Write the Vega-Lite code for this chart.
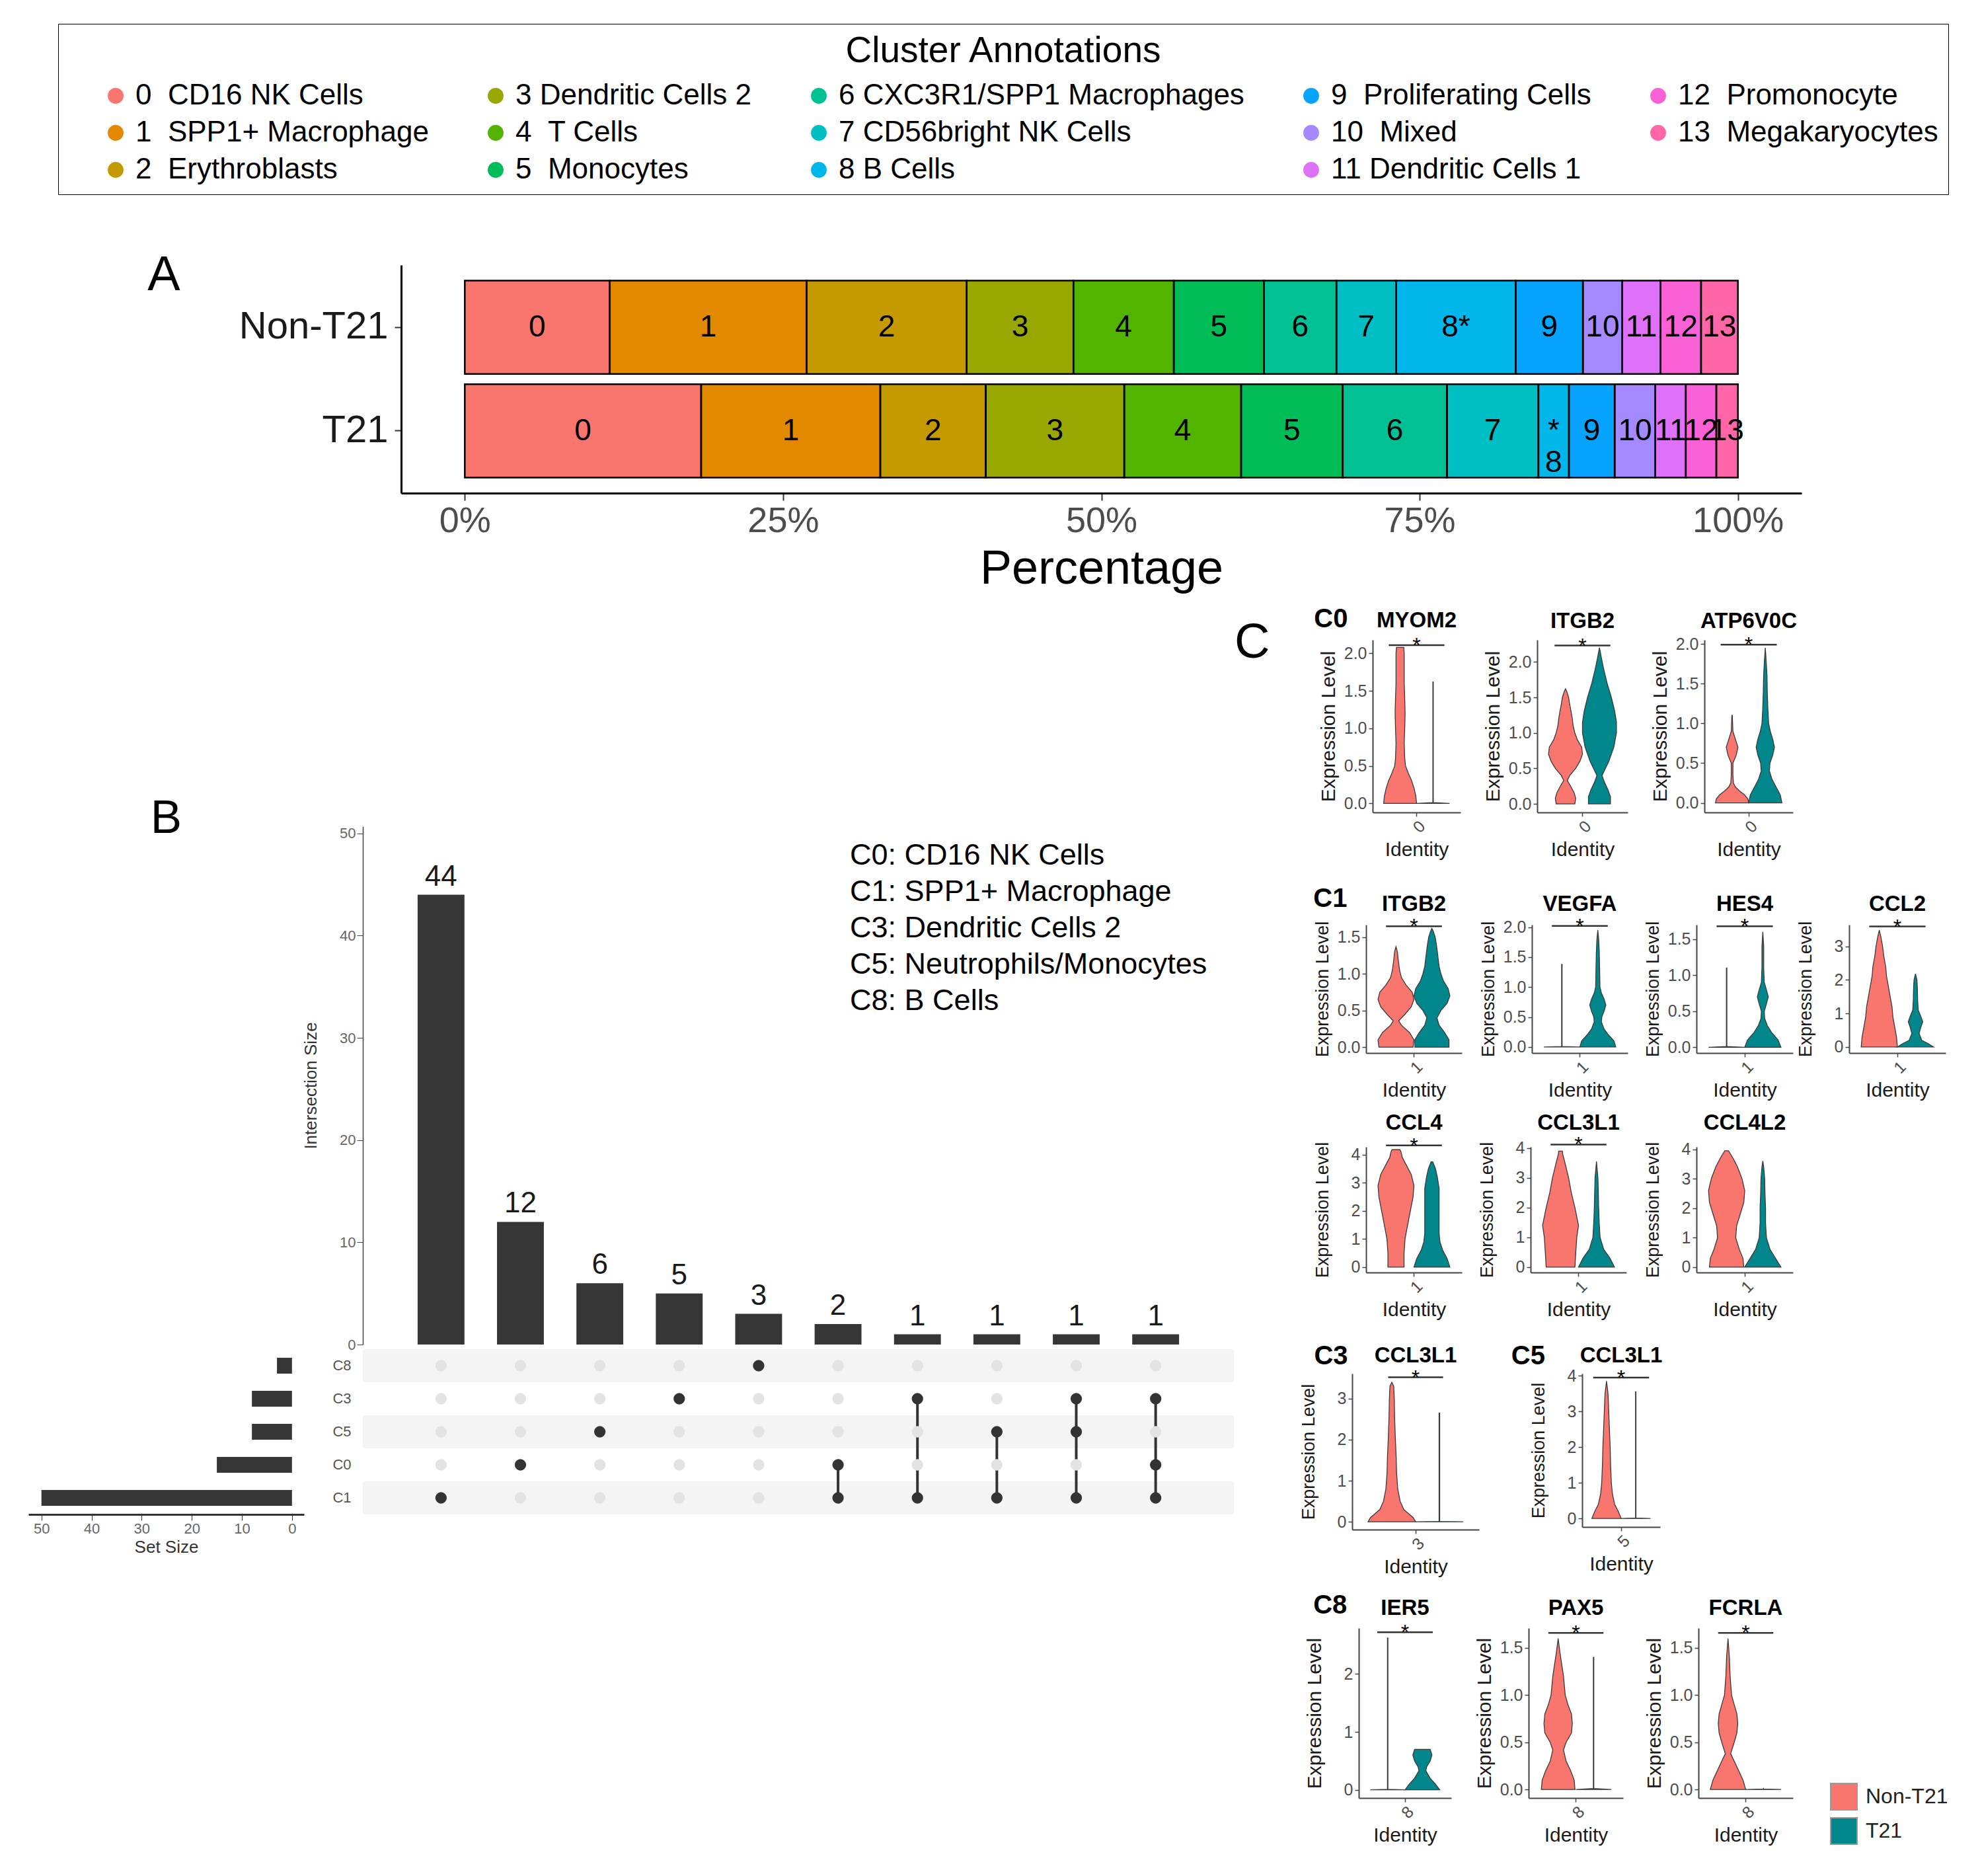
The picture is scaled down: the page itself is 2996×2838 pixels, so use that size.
{
"$schema": "https://vega.github.io/schema/vega-lite/v6.json",
"background": "white",
"padding": {"left": 43, "top": 35, "right": 20, "bottom": 10},
"config": {
  "view": {"stroke": null},
  "font": "Liberation Sans",
  "axis": {"grid": false, "labelFont": "Liberation Sans", "titleFont": "Liberation Sans", "titleFontWeight": "normal"},
  "legend": {"labelFont": "Liberation Sans", "titleFont": "Liberation Sans"},
  "text": {"font": "Liberation Sans"}
},
"datasets": {
  "comp": [
    {"g":"Non-T21","k":0,"pct":11.4,"t":"0","lab":"0\u00a0\u00a0CD16 NK Cells"},
    {"g":"Non-T21","k":1,"pct":15.5,"t":"1","lab":"1\u00a0\u00a0SPP1+ Macrophage"},
    {"g":"Non-T21","k":2,"pct":12.6,"t":"2","lab":"2\u00a0\u00a0Erythroblasts"},
    {"g":"Non-T21","k":3,"pct":8.4,"t":"3","lab":"3\u00a0Dendritic Cells 2"},
    {"g":"Non-T21","k":4,"pct":7.9,"t":"4","lab":"4\u00a0\u00a0T Cells"},
    {"g":"Non-T21","k":5,"pct":7.1,"t":"5","lab":"5\u00a0\u00a0Monocytes"},
    {"g":"Non-T21","k":6,"pct":5.7,"t":"6","lab":"6 CXC3R1/SPP1 Macrophages"},
    {"g":"Non-T21","k":7,"pct":4.7,"t":"7","lab":"7 CD56bright NK Cells"},
    {"g":"Non-T21","k":8,"pct":9.4,"t":"8*","lab":"8 B Cells"},
    {"g":"Non-T21","k":9,"pct":5.3,"t":"9","lab":"9\u00a0\u00a0Proliferating Cells"},
    {"g":"Non-T21","k":10,"pct":3.1,"t":"10","lab":"10\u00a0\u00a0Mixed"},
    {"g":"Non-T21","k":11,"pct":3.0,"t":"11","lab":"11 Dendritic Cells 1"},
    {"g":"Non-T21","k":12,"pct":3.2,"t":"12","lab":"12\u00a0\u00a0Promonocyte"},
    {"g":"Non-T21","k":13,"pct":2.9,"t":"13","lab":"13\u00a0\u00a0Megakaryocytes"},
    {"g":"T21","k":0,"pct":18.6,"t":"0","lab":"0\u00a0\u00a0CD16 NK Cells"},
    {"g":"T21","k":1,"pct":14.1,"t":"1","lab":"1\u00a0\u00a0SPP1+ Macrophage"},
    {"g":"T21","k":2,"pct":8.3,"t":"2","lab":"2\u00a0\u00a0Erythroblasts"},
    {"g":"T21","k":3,"pct":10.9,"t":"3","lab":"3\u00a0Dendritic Cells 2"},
    {"g":"T21","k":4,"pct":9.2,"t":"4","lab":"4\u00a0\u00a0T Cells"},
    {"g":"T21","k":5,"pct":8.0,"t":"5","lab":"5\u00a0\u00a0Monocytes"},
    {"g":"T21","k":6,"pct":8.2,"t":"6","lab":"6 CXC3R1/SPP1 Macrophages"},
    {"g":"T21","k":7,"pct":7.2,"t":"7","lab":"7 CD56bright NK Cells"},
    {"g":"T21","k":8,"pct":2.4,"t":"*\n8","lab":"8 B Cells"},
    {"g":"T21","k":9,"pct":3.6,"t":"9","lab":"9\u00a0\u00a0Proliferating Cells"},
    {"g":"T21","k":10,"pct":3.2,"t":"10","lab":"10\u00a0\u00a0Mixed"},
    {"g":"T21","k":11,"pct":2.4,"t":"11","lab":"11 Dendritic Cells 1"},
    {"g":"T21","k":12,"pct":2.4,"t":"12","lab":"12\u00a0\u00a0Promonocyte"},
    {"g":"T21","k":13,"pct":1.7,"t":"13","lab":"13\u00a0\u00a0Megakaryocytes"}
  ],
  "inter": [
    {"i":1,"n":44},{"i":2,"n":12},{"i":3,"n":6},{"i":4,"n":5},{"i":5,"n":3},
    {"i":6,"n":2},{"i":7,"n":1},{"i":8,"n":1},{"i":9,"n":1},{"i":10,"n":1}
  ],
  "sets": [
    {"s":"C8","n":3},{"s":"C3","n":8},{"s":"C5","n":8},{"s":"C0","n":15},{"s":"C1","n":50}
  ],
  "seg": [
    {"i":6,"a":"C0","b":"C1"},{"i":7,"a":"C3","b":"C1"},{"i":8,"a":"C5","b":"C1"},{"i":9,"a":"C3","b":"C1"},{"i":10,"a":"C3","b":"C1"}
  ],
  "mat": [
    {"i":1,"s":"C8","m":"no"},{"i":1,"s":"C3","m":"no"},{"i":1,"s":"C5","m":"no"},{"i":1,"s":"C0","m":"no"},{"i":1,"s":"C1","m":"yes"},
    {"i":2,"s":"C8","m":"no"},{"i":2,"s":"C3","m":"no"},{"i":2,"s":"C5","m":"no"},{"i":2,"s":"C0","m":"yes"},{"i":2,"s":"C1","m":"no"},
    {"i":3,"s":"C8","m":"no"},{"i":3,"s":"C3","m":"no"},{"i":3,"s":"C5","m":"yes"},{"i":3,"s":"C0","m":"no"},{"i":3,"s":"C1","m":"no"},
    {"i":4,"s":"C8","m":"no"},{"i":4,"s":"C3","m":"yes"},{"i":4,"s":"C5","m":"no"},{"i":4,"s":"C0","m":"no"},{"i":4,"s":"C1","m":"no"},
    {"i":5,"s":"C8","m":"yes"},{"i":5,"s":"C3","m":"no"},{"i":5,"s":"C5","m":"no"},{"i":5,"s":"C0","m":"no"},{"i":5,"s":"C1","m":"no"},
    {"i":6,"s":"C8","m":"no"},{"i":6,"s":"C3","m":"no"},{"i":6,"s":"C5","m":"no"},{"i":6,"s":"C0","m":"yes"},{"i":6,"s":"C1","m":"yes"},
    {"i":7,"s":"C8","m":"no"},{"i":7,"s":"C3","m":"yes"},{"i":7,"s":"C5","m":"no"},{"i":7,"s":"C0","m":"no"},{"i":7,"s":"C1","m":"yes"},
    {"i":8,"s":"C8","m":"no"},{"i":8,"s":"C3","m":"no"},{"i":8,"s":"C5","m":"yes"},{"i":8,"s":"C0","m":"no"},{"i":8,"s":"C1","m":"yes"},
    {"i":9,"s":"C8","m":"no"},{"i":9,"s":"C3","m":"yes"},{"i":9,"s":"C5","m":"yes"},{"i":9,"s":"C0","m":"no"},{"i":9,"s":"C1","m":"yes"},
    {"i":10,"s":"C8","m":"no"},{"i":10,"s":"C3","m":"yes"},{"i":10,"s":"C5","m":"no"},{"i":10,"s":"C0","m":"yes"},{"i":10,"s":"C1","m":"yes"}
  ],
  "vio": [
    {"p":"c0a","g":"N","y":0,"lo":0.55,"hi":1.0},{"p":"c0a","g":"N","y":0.1,"lo":0.561,"hi":0.989},{"p":"c0a","g":"N","y":0.2,"lo":0.584,"hi":0.966},{"p":"c0a","g":"N","y":0.3,"lo":0.617,"hi":0.933},{"p":"c0a","g":"N","y":0.4,"lo":0.662,"hi":0.888},{"p":"c0a","g":"N","y":0.5,"lo":0.701,"hi":0.849},{"p":"c0a","g":"N","y":0.6,"lo":0.712,"hi":0.838},{"p":"c0a","g":"N","y":0.8,"lo":0.719,"hi":0.831},{"p":"c0a","g":"N","y":1.0,"lo":0.712,"hi":0.838},{"p":"c0a","g":"N","y":1.2,"lo":0.707,"hi":0.843},{"p":"c0a","g":"N","y":1.4,"lo":0.712,"hi":0.838},{"p":"c0a","g":"N","y":1.6,"lo":0.719,"hi":0.831},{"p":"c0a","g":"N","y":1.8,"lo":0.719,"hi":0.831},{"p":"c0a","g":"N","y":2.0,"lo":0.719,"hi":0.831},{"p":"c0a","g":"N","y":2.08,"lo":0.725,"hi":0.825},
    {"p":"c0a","g":"T","y":0,"lo":1.0,"hi":1.45},{"p":"c0a","g":"T","y":0.01,"lo":1.222,"hi":1.228},{"p":"c0a","g":"T","y":1.62,"lo":1.222,"hi":1.228},
    {"p":"c0b","g":"N","y":0,"lo":0.651,"hi":0.899},{"p":"c0b","g":"N","y":0.08,"lo":0.64,"hi":0.91},{"p":"c0b","g":"N","y":0.16,"lo":0.662,"hi":0.888},{"p":"c0b","g":"N","y":0.25,"lo":0.707,"hi":0.843},{"p":"c0b","g":"N","y":0.33,"lo":0.752,"hi":0.798},{"p":"c0b","g":"N","y":0.4,"lo":0.719,"hi":0.831},{"p":"c0b","g":"N","y":0.5,"lo":0.64,"hi":0.91},{"p":"c0b","g":"N","y":0.6,"lo":0.584,"hi":0.966},{"p":"c0b","g":"N","y":0.7,"lo":0.55,"hi":1.0},{"p":"c0b","g":"N","y":0.8,"lo":0.561,"hi":0.989},{"p":"c0b","g":"N","y":0.9,"lo":0.617,"hi":0.933},{"p":"c0b","g":"N","y":1.0,"lo":0.651,"hi":0.899},{"p":"c0b","g":"N","y":1.1,"lo":0.674,"hi":0.876},{"p":"c0b","g":"N","y":1.2,"lo":0.685,"hi":0.865},{"p":"c0b","g":"N","y":1.3,"lo":0.701,"hi":0.849},{"p":"c0b","g":"N","y":1.4,"lo":0.719,"hi":0.831},{"p":"c0b","g":"N","y":1.5,"lo":0.734,"hi":0.816},{"p":"c0b","g":"N","y":1.58,"lo":0.757,"hi":0.793},{"p":"c0b","g":"N","y":1.62,"lo":0.775,"hi":0.775},
    {"p":"c0b","g":"T","y":0,"lo":1.079,"hi":1.371},{"p":"c0b","g":"T","y":0.1,"lo":1.079,"hi":1.371},{"p":"c0b","g":"T","y":0.2,"lo":1.112,"hi":1.338},{"p":"c0b","g":"T","y":0.3,"lo":1.157,"hi":1.293},{"p":"c0b","g":"T","y":0.4,"lo":1.191,"hi":1.259},{"p":"c0b","g":"T","y":0.5,"lo":1.146,"hi":1.304},{"p":"c0b","g":"T","y":0.6,"lo":1.101,"hi":1.349},{"p":"c0b","g":"T","y":0.8,"lo":1.034,"hi":1.416},{"p":"c0b","g":"T","y":1.0,"lo":1.0,"hi":1.45},{"p":"c0b","g":"T","y":1.15,"lo":1.0,"hi":1.45},{"p":"c0b","g":"T","y":1.3,"lo":1.022,"hi":1.428},{"p":"c0b","g":"T","y":1.5,"lo":1.067,"hi":1.383},{"p":"c0b","g":"T","y":1.7,"lo":1.124,"hi":1.326},{"p":"c0b","g":"T","y":1.9,"lo":1.169,"hi":1.281},{"p":"c0b","g":"T","y":2.05,"lo":1.198,"hi":1.252},{"p":"c0b","g":"T","y":2.2,"lo":1.225,"hi":1.225},
    {"p":"c0c","g":"N","y":0,"lo":0.55,"hi":1.0},{"p":"c0c","g":"N","y":0.05,"lo":0.561,"hi":0.989},{"p":"c0c","g":"N","y":0.1,"lo":0.606,"hi":0.944},{"p":"c0c","g":"N","y":0.15,"lo":0.674,"hi":0.876},{"p":"c0c","g":"N","y":0.2,"lo":0.73,"hi":0.82},{"p":"c0c","g":"N","y":0.25,"lo":0.757,"hi":0.793},{"p":"c0c","g":"N","y":0.35,"lo":0.764,"hi":0.786},{"p":"c0c","g":"N","y":0.5,"lo":0.764,"hi":0.786},{"p":"c0c","g":"N","y":0.6,"lo":0.719,"hi":0.831},{"p":"c0c","g":"N","y":0.7,"lo":0.696,"hi":0.854},{"p":"c0c","g":"N","y":0.8,"lo":0.73,"hi":0.82},{"p":"c0c","g":"N","y":0.9,"lo":0.764,"hi":0.786},{"p":"c0c","g":"N","y":1.1,"lo":0.772,"hi":0.778},
    {"p":"c0c","g":"T","y":0,"lo":1.0,"hi":1.45},{"p":"c0c","g":"T","y":0.1,"lo":1.022,"hi":1.428},{"p":"c0c","g":"T","y":0.2,"lo":1.079,"hi":1.371},{"p":"c0c","g":"T","y":0.3,"lo":1.135,"hi":1.315},{"p":"c0c","g":"T","y":0.4,"lo":1.169,"hi":1.281},{"p":"c0c","g":"T","y":0.5,"lo":1.162,"hi":1.288},{"p":"c0c","g":"T","y":0.6,"lo":1.124,"hi":1.326},{"p":"c0c","g":"T","y":0.7,"lo":1.101,"hi":1.349},{"p":"c0c","g":"T","y":0.8,"lo":1.124,"hi":1.326},{"p":"c0c","g":"T","y":0.9,"lo":1.157,"hi":1.293},{"p":"c0c","g":"T","y":1.0,"lo":1.18,"hi":1.27},{"p":"c0c","g":"T","y":1.2,"lo":1.191,"hi":1.259},{"p":"c0c","g":"T","y":1.4,"lo":1.198,"hi":1.252},{"p":"c0c","g":"T","y":1.6,"lo":1.202,"hi":1.248},{"p":"c0c","g":"T","y":1.8,"lo":1.214,"hi":1.236},{"p":"c0c","g":"T","y":1.95,"lo":1.225,"hi":1.225},
    {"p":"c1a","g":"N","y":0,"lo":0.561,"hi":0.989},{"p":"c1a","g":"N","y":0.1,"lo":0.55,"hi":1.0},{"p":"c1a","g":"N","y":0.2,"lo":0.606,"hi":0.944},{"p":"c1a","g":"N","y":0.3,"lo":0.707,"hi":0.843},{"p":"c1a","g":"N","y":0.36,"lo":0.741,"hi":0.809},{"p":"c1a","g":"N","y":0.45,"lo":0.662,"hi":0.888},{"p":"c1a","g":"N","y":0.55,"lo":0.584,"hi":0.966},{"p":"c1a","g":"N","y":0.65,"lo":0.55,"hi":1.0},{"p":"c1a","g":"N","y":0.75,"lo":0.572,"hi":0.978},{"p":"c1a","g":"N","y":0.85,"lo":0.651,"hi":0.899},{"p":"c1a","g":"N","y":0.95,"lo":0.707,"hi":0.843},{"p":"c1a","g":"N","y":1.05,"lo":0.73,"hi":0.82},{"p":"c1a","g":"N","y":1.2,"lo":0.748,"hi":0.802},{"p":"c1a","g":"N","y":1.3,"lo":0.757,"hi":0.793},{"p":"c1a","g":"N","y":1.37,"lo":0.775,"hi":0.775},
    {"p":"c1a","g":"T","y":0,"lo":1.011,"hi":1.439},{"p":"c1a","g":"T","y":0.1,"lo":1.011,"hi":1.439},{"p":"c1a","g":"T","y":0.2,"lo":1.067,"hi":1.383},{"p":"c1a","g":"T","y":0.3,"lo":1.135,"hi":1.315},{"p":"c1a","g":"T","y":0.4,"lo":1.162,"hi":1.288},{"p":"c1a","g":"T","y":0.5,"lo":1.112,"hi":1.338},{"p":"c1a","g":"T","y":0.6,"lo":1.034,"hi":1.416},{"p":"c1a","g":"T","y":0.7,"lo":1.0,"hi":1.45},{"p":"c1a","g":"T","y":0.8,"lo":1.022,"hi":1.428},{"p":"c1a","g":"T","y":0.9,"lo":1.079,"hi":1.371},{"p":"c1a","g":"T","y":1.0,"lo":1.112,"hi":1.338},{"p":"c1a","g":"T","y":1.1,"lo":1.135,"hi":1.315},{"p":"c1a","g":"T","y":1.2,"lo":1.146,"hi":1.304},{"p":"c1a","g":"T","y":1.3,"lo":1.157,"hi":1.293},{"p":"c1a","g":"T","y":1.4,"lo":1.169,"hi":1.281},{"p":"c1a","g":"T","y":1.5,"lo":1.184,"hi":1.266},{"p":"c1a","g":"T","y":1.58,"lo":1.207,"hi":1.243},{"p":"c1a","g":"T","y":1.62,"lo":1.225,"hi":1.225},
    {"p":"c1b","g":"N","y":0,"lo":0.55,"hi":1.0},{"p":"c1b","g":"N","y":0.01,"lo":0.772,"hi":0.778},{"p":"c1b","g":"N","y":1.38,"lo":0.772,"hi":0.778},
    {"p":"c1b","g":"T","y":0,"lo":1.0,"hi":1.45},{"p":"c1b","g":"T","y":0.1,"lo":1.022,"hi":1.428},{"p":"c1b","g":"T","y":0.2,"lo":1.09,"hi":1.36},{"p":"c1b","g":"T","y":0.3,"lo":1.146,"hi":1.304},{"p":"c1b","g":"T","y":0.42,"lo":1.18,"hi":1.27},{"p":"c1b","g":"T","y":0.5,"lo":1.175,"hi":1.275},{"p":"c1b","g":"T","y":0.6,"lo":1.146,"hi":1.304},{"p":"c1b","g":"T","y":0.7,"lo":1.124,"hi":1.326},{"p":"c1b","g":"T","y":0.8,"lo":1.146,"hi":1.304},{"p":"c1b","g":"T","y":0.9,"lo":1.18,"hi":1.27},{"p":"c1b","g":"T","y":1.0,"lo":1.198,"hi":1.252},{"p":"c1b","g":"T","y":1.3,"lo":1.202,"hi":1.248},{"p":"c1b","g":"T","y":1.6,"lo":1.207,"hi":1.243},{"p":"c1b","g":"T","y":1.8,"lo":1.214,"hi":1.236},{"p":"c1b","g":"T","y":1.95,"lo":1.225,"hi":1.225},
    {"p":"c1c","g":"N","y":0,"lo":0.55,"hi":1.0},{"p":"c1c","g":"N","y":0.01,"lo":0.772,"hi":0.778},{"p":"c1c","g":"N","y":1.1,"lo":0.772,"hi":0.778},
    {"p":"c1c","g":"T","y":0,"lo":1.0,"hi":1.45},{"p":"c1c","g":"T","y":0.1,"lo":1.034,"hi":1.416},{"p":"c1c","g":"T","y":0.2,"lo":1.112,"hi":1.338},{"p":"c1c","g":"T","y":0.3,"lo":1.169,"hi":1.281},{"p":"c1c","g":"T","y":0.4,"lo":1.202,"hi":1.248},{"p":"c1c","g":"T","y":0.5,"lo":1.207,"hi":1.243},{"p":"c1c","g":"T","y":0.6,"lo":1.18,"hi":1.27},{"p":"c1c","g":"T","y":0.7,"lo":1.157,"hi":1.293},{"p":"c1c","g":"T","y":0.8,"lo":1.18,"hi":1.27},{"p":"c1c","g":"T","y":0.9,"lo":1.207,"hi":1.243},{"p":"c1c","g":"T","y":1.1,"lo":1.214,"hi":1.236},{"p":"c1c","g":"T","y":1.4,"lo":1.214,"hi":1.236},{"p":"c1c","g":"T","y":1.6,"lo":1.225,"hi":1.225},
    {"p":"c1d","g":"N","y":0,"lo":0.55,"hi":1.0},{"p":"c1d","g":"N","y":0.3,"lo":0.561,"hi":0.989},{"p":"c1d","g":"N","y":0.6,"lo":0.584,"hi":0.966},{"p":"c1d","g":"N","y":0.9,"lo":0.606,"hi":0.944},{"p":"c1d","g":"N","y":1.2,"lo":0.617,"hi":0.933},{"p":"c1d","g":"N","y":1.5,"lo":0.64,"hi":0.91},{"p":"c1d","g":"N","y":1.8,"lo":0.662,"hi":0.888},{"p":"c1d","g":"N","y":2.1,"lo":0.685,"hi":0.865},{"p":"c1d","g":"N","y":2.4,"lo":0.696,"hi":0.854},{"p":"c1d","g":"N","y":2.7,"lo":0.719,"hi":0.831},{"p":"c1d","g":"N","y":3.0,"lo":0.734,"hi":0.816},{"p":"c1d","g":"N","y":3.3,"lo":0.757,"hi":0.793},{"p":"c1d","g":"N","y":3.48,"lo":0.775,"hi":0.775},
    {"p":"c1d","g":"T","y":0,"lo":1.0,"hi":1.45},{"p":"c1d","g":"T","y":0.1,"lo":1.067,"hi":1.383},{"p":"c1d","g":"T","y":0.2,"lo":1.146,"hi":1.304},{"p":"c1d","g":"T","y":0.4,"lo":1.18,"hi":1.27},{"p":"c1d","g":"T","y":0.6,"lo":1.157,"hi":1.293},{"p":"c1d","g":"T","y":0.75,"lo":1.135,"hi":1.315},{"p":"c1d","g":"T","y":0.9,"lo":1.157,"hi":1.293},{"p":"c1d","g":"T","y":1.1,"lo":1.191,"hi":1.259},{"p":"c1d","g":"T","y":1.4,"lo":1.198,"hi":1.252},{"p":"c1d","g":"T","y":1.8,"lo":1.202,"hi":1.248},{"p":"c1d","g":"T","y":2.0,"lo":1.207,"hi":1.243},{"p":"c1d","g":"T","y":2.18,"lo":1.225,"hi":1.225},
    {"p":"c1e","g":"N","y":0,"lo":0.674,"hi":0.876},{"p":"c1e","g":"N","y":0.5,"lo":0.674,"hi":0.876},{"p":"c1e","g":"N","y":1.0,"lo":0.662,"hi":0.888},{"p":"c1e","g":"N","y":1.5,"lo":0.629,"hi":0.921},{"p":"c1e","g":"N","y":2.0,"lo":0.595,"hi":0.955},{"p":"c1e","g":"N","y":2.5,"lo":0.561,"hi":0.989},{"p":"c1e","g":"N","y":2.9,"lo":0.55,"hi":1.0},{"p":"c1e","g":"N","y":3.3,"lo":0.584,"hi":0.966},{"p":"c1e","g":"N","y":3.6,"lo":0.64,"hi":0.91},{"p":"c1e","g":"N","y":3.9,"lo":0.696,"hi":0.854},{"p":"c1e","g":"N","y":4.1,"lo":0.712,"hi":0.838},{"p":"c1e","g":"N","y":4.18,"lo":0.725,"hi":0.825},
    {"p":"c1e","g":"T","y":0,"lo":1.0,"hi":1.45},{"p":"c1e","g":"T","y":0.3,"lo":1.034,"hi":1.416},{"p":"c1e","g":"T","y":0.6,"lo":1.09,"hi":1.36},{"p":"c1e","g":"T","y":0.9,"lo":1.124,"hi":1.326},{"p":"c1e","g":"T","y":1.2,"lo":1.135,"hi":1.315},{"p":"c1e","g":"T","y":2.8,"lo":1.135,"hi":1.315},{"p":"c1e","g":"T","y":3.2,"lo":1.157,"hi":1.293},{"p":"c1e","g":"T","y":3.5,"lo":1.18,"hi":1.27},{"p":"c1e","g":"T","y":3.75,"lo":1.214,"hi":1.236},
    {"p":"c1f","g":"N","y":0,"lo":0.595,"hi":0.955},{"p":"c1f","g":"N","y":0.5,"lo":0.584,"hi":0.966},{"p":"c1f","g":"N","y":1.0,"lo":0.572,"hi":0.978},{"p":"c1f","g":"N","y":1.4,"lo":0.55,"hi":1.0},{"p":"c1f","g":"N","y":2.0,"lo":0.595,"hi":0.955},{"p":"c1f","g":"N","y":2.5,"lo":0.64,"hi":0.91},{"p":"c1f","g":"N","y":3.0,"lo":0.674,"hi":0.876},{"p":"c1f","g":"N","y":3.5,"lo":0.719,"hi":0.831},{"p":"c1f","g":"N","y":3.8,"lo":0.748,"hi":0.802},{"p":"c1f","g":"N","y":3.9,"lo":0.752,"hi":0.798},
    {"p":"c1f","g":"T","y":0,"lo":1.0,"hi":1.45},{"p":"c1f","g":"T","y":0.3,"lo":1.056,"hi":1.394},{"p":"c1f","g":"T","y":0.6,"lo":1.135,"hi":1.315},{"p":"c1f","g":"T","y":1.0,"lo":1.18,"hi":1.27},{"p":"c1f","g":"T","y":1.5,"lo":1.191,"hi":1.259},{"p":"c1f","g":"T","y":2.0,"lo":1.198,"hi":1.252},{"p":"c1f","g":"T","y":2.5,"lo":1.202,"hi":1.248},{"p":"c1f","g":"T","y":3.0,"lo":1.207,"hi":1.243},{"p":"c1f","g":"T","y":3.55,"lo":1.225,"hi":1.225},
    {"p":"c1g","g":"N","y":0,"lo":0.561,"hi":0.989},{"p":"c1g","g":"N","y":0.3,"lo":0.572,"hi":0.978},{"p":"c1g","g":"N","y":0.6,"lo":0.617,"hi":0.933},{"p":"c1g","g":"N","y":1.0,"lo":0.662,"hi":0.888},{"p":"c1g","g":"N","y":1.4,"lo":0.651,"hi":0.899},{"p":"c1g","g":"N","y":1.8,"lo":0.606,"hi":0.944},{"p":"c1g","g":"N","y":2.2,"lo":0.561,"hi":0.989},{"p":"c1g","g":"N","y":2.6,"lo":0.55,"hi":1.0},{"p":"c1g","g":"N","y":3.0,"lo":0.584,"hi":0.966},{"p":"c1g","g":"N","y":3.4,"lo":0.64,"hi":0.91},{"p":"c1g","g":"N","y":3.7,"lo":0.696,"hi":0.854},{"p":"c1g","g":"N","y":3.9,"lo":0.741,"hi":0.809},{"p":"c1g","g":"N","y":3.95,"lo":0.752,"hi":0.798},
    {"p":"c1g","g":"T","y":0,"lo":1.0,"hi":1.45},{"p":"c1g","g":"T","y":0.3,"lo":1.067,"hi":1.383},{"p":"c1g","g":"T","y":0.6,"lo":1.135,"hi":1.315},{"p":"c1g","g":"T","y":1.0,"lo":1.18,"hi":1.27},{"p":"c1g","g":"T","y":1.5,"lo":1.191,"hi":1.259},{"p":"c1g","g":"T","y":2.0,"lo":1.191,"hi":1.259},{"p":"c1g","g":"T","y":2.5,"lo":1.198,"hi":1.252},{"p":"c1g","g":"T","y":3.0,"lo":1.202,"hi":1.248},{"p":"c1g","g":"T","y":3.4,"lo":1.214,"hi":1.236},{"p":"c1g","g":"T","y":3.6,"lo":1.225,"hi":1.225},
    {"p":"c3","g":"N","y":0,"lo":0.55,"hi":1.0},{"p":"c3","g":"N","y":0.1,"lo":0.572,"hi":0.978},{"p":"c3","g":"N","y":0.2,"lo":0.617,"hi":0.933},{"p":"c3","g":"N","y":0.3,"lo":0.662,"hi":0.888},{"p":"c3","g":"N","y":0.5,"lo":0.696,"hi":0.854},{"p":"c3","g":"N","y":0.8,"lo":0.719,"hi":0.831},{"p":"c3","g":"N","y":1.2,"lo":0.73,"hi":0.82},{"p":"c3","g":"N","y":1.6,"lo":0.734,"hi":0.816},{"p":"c3","g":"N","y":2.0,"lo":0.741,"hi":0.809},{"p":"c3","g":"N","y":2.5,"lo":0.748,"hi":0.802},{"p":"c3","g":"N","y":3.0,"lo":0.752,"hi":0.798},{"p":"c3","g":"N","y":3.3,"lo":0.757,"hi":0.793},{"p":"c3","g":"N","y":3.4,"lo":0.775,"hi":0.775},
    {"p":"c3","g":"T","y":0,"lo":1.0,"hi":1.45},{"p":"c3","g":"T","y":0.01,"lo":1.222,"hi":1.228},{"p":"c3","g":"T","y":2.65,"lo":1.222,"hi":1.228},
    {"p":"c5","g":"N","y":0,"lo":0.55,"hi":1.0},{"p":"c5","g":"N","y":0.2,"lo":0.595,"hi":0.955},{"p":"c5","g":"N","y":0.4,"lo":0.651,"hi":0.899},{"p":"c5","g":"N","y":0.7,"lo":0.685,"hi":0.865},{"p":"c5","g":"N","y":1.0,"lo":0.701,"hi":0.849},{"p":"c5","g":"N","y":1.5,"lo":0.712,"hi":0.838},{"p":"c5","g":"N","y":2.0,"lo":0.719,"hi":0.831},{"p":"c5","g":"N","y":2.5,"lo":0.73,"hi":0.82},{"p":"c5","g":"N","y":3.0,"lo":0.741,"hi":0.809},{"p":"c5","g":"N","y":3.5,"lo":0.752,"hi":0.798},{"p":"c5","g":"N","y":3.85,"lo":0.775,"hi":0.775},
    {"p":"c5","g":"T","y":0,"lo":1.0,"hi":1.45},{"p":"c5","g":"T","y":0.01,"lo":1.222,"hi":1.228},{"p":"c5","g":"T","y":3.55,"lo":1.222,"hi":1.228},
    {"p":"c8a","g":"N","y":0,"lo":0.55,"hi":1.0},{"p":"c8a","g":"N","y":0.01,"lo":0.772,"hi":0.778},{"p":"c8a","g":"N","y":2.62,"lo":0.772,"hi":0.778},
    {"p":"c8a","g":"T","y":0,"lo":1.0,"hi":1.45},{"p":"c8a","g":"T","y":0.1,"lo":1.056,"hi":1.394},{"p":"c8a","g":"T","y":0.2,"lo":1.124,"hi":1.326},{"p":"c8a","g":"T","y":0.33,"lo":1.18,"hi":1.27},{"p":"c8a","g":"T","y":0.4,"lo":1.169,"hi":1.281},{"p":"c8a","g":"T","y":0.5,"lo":1.124,"hi":1.326},{"p":"c8a","g":"T","y":0.6,"lo":1.101,"hi":1.349},{"p":"c8a","g":"T","y":0.7,"lo":1.124,"hi":1.326},
    {"p":"c8b","g":"N","y":0,"lo":0.561,"hi":0.989},{"p":"c8b","g":"N","y":0.1,"lo":0.572,"hi":0.978},{"p":"c8b","g":"N","y":0.2,"lo":0.617,"hi":0.933},{"p":"c8b","g":"N","y":0.3,"lo":0.674,"hi":0.876},{"p":"c8b","g":"N","y":0.42,"lo":0.707,"hi":0.843},{"p":"c8b","g":"N","y":0.5,"lo":0.674,"hi":0.876},{"p":"c8b","g":"N","y":0.6,"lo":0.606,"hi":0.944},{"p":"c8b","g":"N","y":0.7,"lo":0.595,"hi":0.955},{"p":"c8b","g":"N","y":0.8,"lo":0.606,"hi":0.944},{"p":"c8b","g":"N","y":0.9,"lo":0.651,"hi":0.899},{"p":"c8b","g":"N","y":1.0,"lo":0.685,"hi":0.865},{"p":"c8b","g":"N","y":1.1,"lo":0.696,"hi":0.854},{"p":"c8b","g":"N","y":1.2,"lo":0.707,"hi":0.843},{"p":"c8b","g":"N","y":1.3,"lo":0.725,"hi":0.825},{"p":"c8b","g":"N","y":1.45,"lo":0.752,"hi":0.798},{"p":"c8b","g":"N","y":1.6,"lo":0.775,"hi":0.775},
    {"p":"c8b","g":"T","y":0,"lo":1.0,"hi":1.45},{"p":"c8b","g":"T","y":0.01,"lo":1.222,"hi":1.228},{"p":"c8b","g":"T","y":1.4,"lo":1.222,"hi":1.228},
    {"p":"c8c","g":"N","y":0,"lo":0.55,"hi":1.0},{"p":"c8c","g":"N","y":0.1,"lo":0.584,"hi":0.966},{"p":"c8c","g":"N","y":0.2,"lo":0.64,"hi":0.91},{"p":"c8c","g":"N","y":0.3,"lo":0.696,"hi":0.854},{"p":"c8c","g":"N","y":0.38,"lo":0.741,"hi":0.809},{"p":"c8c","g":"N","y":0.5,"lo":0.696,"hi":0.854},{"p":"c8c","g":"N","y":0.6,"lo":0.662,"hi":0.888},{"p":"c8c","g":"N","y":0.7,"lo":0.651,"hi":0.899},{"p":"c8c","g":"N","y":0.8,"lo":0.662,"hi":0.888},{"p":"c8c","g":"N","y":0.9,"lo":0.696,"hi":0.854},{"p":"c8c","g":"N","y":1.0,"lo":0.73,"hi":0.82},{"p":"c8c","g":"N","y":1.2,"lo":0.748,"hi":0.802},{"p":"c8c","g":"N","y":1.4,"lo":0.757,"hi":0.793},{"p":"c8c","g":"N","y":1.6,"lo":0.775,"hi":0.775},
    {"p":"c8c","g":"T","y":0,"lo":1.0,"hi":1.45},{"p":"c8c","g":"T","y":0.005,"lo":1.222,"hi":1.228},{"p":"c8c","g":"T","y":0.01,"lo":1.225,"hi":1.225}
  ]
},
"spacing": 20,
"resolve": {"scale": {"x": "independent", "y": "independent", "color": "independent", "fill": "independent"}, "legend": {"color": "independent", "fill": "independent"}},
"vconcat": [
 {
  "hconcat": [
   {"width": 410, "height": 32, "data": {"values": [{"t": "A"}]}, "mark": {"type": "text", "fontSize": 74, "align": "center", "baseline": "middle", "color": "black"}, "encoding": {"text": {"field": "t"}}},
   {
    "width": 2119, "height": 345,
    "data": {"name": "comp"},
    "transform": [{"stack": "pct", "groupby": ["g"], "sort": [{"field": "k", "order": "ascending"}], "offset": "normalize", "as": ["s0", "s1"]}],
    "encoding": {
      "y": {"field": "g", "type": "nominal", "sort": ["Non-T21", "T21"], "scale": {"paddingInner": 0.1, "paddingOuter": 0.15},
            "axis": {"title": null, "labelFontSize": 58, "labelColor": "#1a1a1a", "labelLimit": 500, "tickSize": 10, "tickColor": "#333", "tickWidth": 2, "labelPadding": 10, "domainColor": "black", "domainWidth": 3}}
    },
    "layer": [
      {"mark": {"type": "bar", "opacity": 1},
       "encoding": {
         "x": {"field": "s0", "type": "quantitative", "scale": {"domain": [-0.05, 1.05], "nice": false, "zero": false},
               "axis": {"values": [0, 0.25, 0.5, 0.75, 1], "format": ".0%", "title": "Percentage", "titleFontSize": 72, "titleColor": "black", "titlePadding": 10, "labelFontSize": 54, "labelColor": "#4d4d4d", "tickSize": 11, "tickColor": "#333", "tickWidth": 2, "domainColor": "black", "domainWidth": 3, "labelPadding": 4}},
         "x2": {"field": "s1"},
         "color": {"field": "lab", "type": "nominal",
           "scale": {"domain": ["0\u00a0\u00a0CD16 NK Cells", "1\u00a0\u00a0SPP1+ Macrophage", "2\u00a0\u00a0Erythroblasts", "3\u00a0Dendritic Cells 2", "4\u00a0\u00a0T Cells", "5\u00a0\u00a0Monocytes", "6 CXC3R1/SPP1 Macrophages", "7 CD56bright NK Cells", "8 B Cells", "9\u00a0\u00a0Proliferating Cells", "10\u00a0\u00a0Mixed", "11 Dendritic Cells 1", "12\u00a0\u00a0Promonocyte", "13\u00a0\u00a0Megakaryocytes"],
                     "range": ["#F8766D", "#E38900", "#C49A00", "#99A800", "#53B400", "#00BC56", "#00C094", "#00BFC4", "#00B6EB", "#06A4FF", "#A58AFF", "#DF70F8", "#FB61D7", "#FF66A8"]},
           "legend": {"orient": "none", "legendX": -519, "legendY": -365, "columns": 5, "title": "Cluster Annotations", "titleFontSize": 55, "titleFontWeight": "normal", "titleColor": "black", "titleAnchor": "middle", "titlePadding": 17, "titleLimit": 2000, "labelFontSize": 44, "labelColor": "black", "labelLimit": 2000, "labelOffset": 8, "symbolType": "circle", "symbolSize": 570, "symbolStrokeWidth": 0, "symbolOffset": 50, "columnPadding": 29, "rowPadding": 12, "padding": 15, "strokeColor": "black", "fillColor": "white",
                      "encode": {"legend": {"update": {"strokeWidth": {"value": 2.5}}}}}}
       }},
      {"mark": {"type": "bar", "filled": false, "stroke": "black", "strokeWidth": 2.5, "opacity": 1},
       "encoding": {"x": {"field": "s0", "type": "quantitative"}, "x2": {"field": "s1"}}},
      {"transform": [{"fold": ["s0", "s1"], "as": ["edge", "pos"]}, {"aggregate": [{"op": "mean", "field": "pos", "as": "mid"}], "groupby": ["g", "k", "t"]}],
       "mark": {"type": "text", "fontSize": 46, "lineBreak": "\n", "color": "black", "baseline": "middle", "align": "center"},
       "encoding": {"x": {"field": "mid", "type": "quantitative"}, "text": {"field": "t"}}}
    ]
   }
  ],
  "spacing": 154,
  "bounds": "flush",
  "resolve": {"scale": {"x": "independent", "y": "independent", "color": "independent", "fill": "independent"}, "legend": {"color": "independent", "fill": "independent"}}
 },
 {
  "hconcat": [
   {
    "concat": [
      {"width": 1, "height": 275, "data": {"values": []}, "mark": "point"},
      {"width": 1, "height": 1, "data": {"values": []}, "mark": "point"},
      {"width": 417, "height": 20, "data": {"values": [{"t": "B"}]}, "mark": {"type": "text", "fontSize": 71, "baseline": "alphabetic", "align": "center", "color": "black"}, "encoding": {"text": {"field": "t"}}},
      {
        "width": 1318, "height": 784,
        "layer": [
          {"data": {"name": "inter"}, "mark": {"type": "bar", "color": "#363636", "opacity": 1},
           "encoding": {
             "x": {"field": "i", "type": "ordinal", "scale": {"domain": [1,2,3,4,5,6,7,8,9,10], "paddingInner": 0.41, "paddingOuter": 0.69}, "axis": null},
             "y": {"field": "n", "type": "quantitative", "scale": {"domain": [0, 50.7], "nice": false},
                   "axis": {"title": "Intersection Size", "titleFontSize": 26, "titleColor": "#333", "titlePadding": 30, "labelFontSize": 22, "labelColor": "#666", "values": [0,10,20,30,40,50], "tickSize": 9, "tickColor": "#444", "domainColor": "#444", "domainWidth": 1.5}}
           }},
          {"data": {"name": "inter"}, "mark": {"type": "text", "fontSize": 44, "baseline": "alphabetic", "dy": -14, "color": "#1a1a1a"},
           "encoding": {"x": {"field": "i", "type": "ordinal"}, "y": {"field": "n", "type": "quantitative"}, "text": {"field": "n", "type": "quantitative"}}},
          {"data": {"values": [{}]}, "mark": {"type": "text", "align": "left", "baseline": "top", "fontSize": 45, "lineHeight": 55, "dx": 18, "color": "black"},
           "encoding": {"x": {"datum": 6, "type": "ordinal"}, "y": {"datum": 49.3, "type": "quantitative"},
                        "text": {"value": ["C0: CD16 NK Cells", "C1: SPP1+ Macrophage", "C3: Dendritic Cells 2", "C5: Neutrophils/Monocytes", "C8: B Cells"]}}}
        ]
      },
      {
        "width": 417, "height": 250,
        "data": {"name": "sets"},
        "mark": {"type": "bar", "color": "#363636", "opacity": 1},
        "encoding": {
          "y": {"field": "s", "type": "nominal", "scale": {"domain": ["C8","C3","C5","C0","C1"], "paddingInner": 0.52, "paddingOuter": 0.26}, "axis": null},
          "x": {"field": "n", "type": "quantitative", "scale": {"domain": [-2.4, 52.6], "reverse": true, "nice": false},
                "axis": {"values": [0,10,20,30,40,50], "title": "Set Size", "titleFontSize": 26, "titleColor": "#333", "titlePadding": 4, "labelFontSize": 22, "labelColor": "#666", "tickSize": 9, "tickColor": "#333", "domainColor": "#333", "domainWidth": 3}}
        }
      },
      {
        "width": 1318, "height": 250,
        "layer": [
          {"data": {"values": [{"s": "C8"}, {"s": "C5"}, {"s": "C1"}]}, "mark": {"type": "rect", "color": "#F4F4F4"},
           "encoding": {"y": {"field": "s", "type": "nominal", "scale": {"domain": ["C8","C3","C5","C0","C1"], "paddingInner": 0, "paddingOuter": 0},
                              "axis": {"title": null, "labelFontSize": 22, "labelColor": "#555", "ticks": false, "domain": false, "labelPadding": 18}}}},
          {"data": {"name": "seg"}, "mark": {"type": "rule", "strokeWidth": 4, "color": "#333"},
           "encoding": {"x": {"field": "i", "type": "ordinal", "scale": {"domain": [1,2,3,4,5,6,7,8,9,10], "paddingInner": 0.41, "paddingOuter": 0.69}, "axis": null},
                        "y": {"field": "a", "type": "nominal"}, "y2": {"field": "b"}}},
          {"data": {"name": "mat"}, "mark": {"type": "circle", "size": 300, "opacity": 1},
           "encoding": {"x": {"field": "i", "type": "ordinal"}, "y": {"field": "s", "type": "nominal"},
                        "color": {"field": "m", "type": "nominal", "scale": {"domain": ["yes", "no"], "range": ["#333333", "#E3E3E3"]}, "legend": null}}}
        ]
      }
    ],
    "columns": 2,
    "bounds": "flush",
    "align": "each",
    "spacing": {"row": 7, "column": 89},
    "resolve": {"scale": {"x": "independent", "y": "independent", "color": "independent", "fill": "independent"}, "legend": {"color": "independent", "fill": "independent"}}
   },
   {
    "vconcat": [
     {"hconcat": [
      {"width": 209, "height": 370.7, "data": {"values": [{}]}, "mark": {"type": "rect", "opacity": 0}, "encoding": {}},
      {"width": 133, "height": 261, "layer": [
        {"data": {"name": "vio"}, "transform": [{"filter": "datum.p == 'c0a'"}], "mark": {"type": "area", "orient": "horizontal", "stroke": "#3a3a3a", "strokeWidth": 1.3, "opacity": 1},
         "encoding": {
           "y": {"field": "y", "type": "quantitative", "scale": {"domain": [-0.12, 2.18], "nice": false, "zero": false}, "axis": {"title": "Expression Level", "titleFontSize": 30, "titleColor": "#1a1a1a", "titlePadding": 8, "labelFontSize": 25, "labelColor": "#4d4d4d", "tickSize": 6, "tickWidth": 1.5, "tickColor": "#444", "domainColor": "#444", "domainWidth": 2, "minExtent": 44, "maxExtent": 44, "labelPadding": 3, "labelOverlap": false, "values": [0,0.5,1,1.5,2], "format": ".1f"}},
           "x": {"field": "lo", "type": "quantitative", "scale": {"domain": [0.4, 1.6], "nice": false, "zero": false}, "axis": {"title": "Identity", "titleFontSize": 30, "titleColor": "#1a1a1a", "titlePadding": 6, "labelFontSize": 25, "labelColor": "#4d4d4d", "labelAngle": -45, "tickSize": 6, "tickWidth": 1.5, "tickColor": "#444", "domainColor": "#444", "domainWidth": 2, "values": [1], "labelExpr": "'0'", "labelPadding": 2}},
           "x2": {"field": "hi"},
           "fill": {"field": "g", "type": "nominal", "scale": {"domain": ["N", "T"], "range": ["#F8766D", "#00868B"]}, "legend": null}
         }},
        {"data": {"values": [{}]}, "mark": {"type": "rule", "strokeWidth": 2.5, "color": "#333"}, "encoding": {"x": {"datum": 0.62}, "x2": {"datum": 1.38}, "y": {"datum": 2.11}}},
        {"data": {"values": [{}]}, "mark": {"type": "text", "text": "*", "fontSize": 32, "baseline": "alphabetic", "dy": 11}, "encoding": {"x": {"datum": 1}, "y": {"datum": 2.11}}},
        {"data": {"values": [{}]}, "mark": {"type": "text", "text": "MYOM2", "fontSize": 33, "fontWeight": "bold", "baseline": "alphabetic"}, "encoding": {"x": {"datum": 1}, "y": {"datum": 2.35}}},
        {"data": {"values": [{}]}, "mark": {"type": "text", "text": "C0", "fontSize": 40, "fontWeight": "bold", "align": "left", "baseline": "alphabetic"}, "encoding": {"x": {"datum": -0.40}, "y": {"datum": 2.35}}},
        {"data": {"values": [{}]}, "mark": {"type": "text", "text": "C", "fontSize": 74, "align": "left", "baseline": "alphabetic"}, "encoding": {"x": {"datum": -1.486}, "y": {"datum": 1.94}}}
      ]},
      {"width": 116, "height": 1, "data": {"values": []}, "mark": "point"},
      {"width": 137, "height": 261, "layer": [
        {"data": {"name": "vio"}, "transform": [{"filter": "datum.p == 'c0b'"}], "mark": {"type": "area", "orient": "horizontal", "stroke": "#3a3a3a", "strokeWidth": 1.3, "opacity": 1},
         "encoding": {
           "y": {"field": "y", "type": "quantitative", "scale": {"domain": [-0.12, 2.31], "nice": false, "zero": false}, "axis": {"title": "Expression Level", "titleFontSize": 30, "titleColor": "#1a1a1a", "titlePadding": 8, "labelFontSize": 25, "labelColor": "#4d4d4d", "tickSize": 6, "tickWidth": 1.5, "tickColor": "#444", "domainColor": "#444", "domainWidth": 2, "minExtent": 44, "maxExtent": 44, "labelPadding": 3, "labelOverlap": false, "values": [0,0.5,1,1.5,2], "format": ".1f"}},
           "x": {"field": "lo", "type": "quantitative", "scale": {"domain": [0.4, 1.6], "nice": false, "zero": false}, "axis": {"title": "Identity", "titleFontSize": 30, "titleColor": "#1a1a1a", "titlePadding": 6, "labelFontSize": 25, "labelColor": "#4d4d4d", "labelAngle": -45, "tickSize": 6, "tickWidth": 1.5, "tickColor": "#444", "domainColor": "#444", "domainWidth": 2, "values": [1], "labelExpr": "'0'", "labelPadding": 2}},
           "x2": {"field": "hi"},
           "fill": {"field": "g", "type": "nominal", "scale": {"domain": ["N", "T"], "range": ["#F8766D", "#00868B"]}, "legend": null}
         }},
        {"data": {"values": [{}]}, "mark": {"type": "rule", "strokeWidth": 2.5, "color": "#333"}, "encoding": {"x": {"datum": 0.63}, "x2": {"datum": 1.37}, "y": {"datum": 2.23}}},
        {"data": {"values": [{}]}, "mark": {"type": "text", "text": "*", "fontSize": 32, "baseline": "alphabetic", "dy": 11}, "encoding": {"x": {"datum": 1}, "y": {"datum": 2.23}}},
        {"data": {"values": [{}]}, "mark": {"type": "text", "text": "ITGB2", "fontSize": 33, "fontWeight": "bold", "baseline": "alphabetic"}, "encoding": {"x": {"datum": 1}, "y": {"datum": 2.48}}}
      ]},
      {"width": 116, "height": 1, "data": {"values": []}, "mark": "point"},
      {"width": 134, "height": 261, "layer": [
        {"data": {"name": "vio"}, "transform": [{"filter": "datum.p == 'c0c'"}], "mark": {"type": "area", "orient": "horizontal", "stroke": "#3a3a3a", "strokeWidth": 1.3, "opacity": 1},
         "encoding": {
           "y": {"field": "y", "type": "quantitative", "scale": {"domain": [-0.12, 2.05], "nice": false, "zero": false}, "axis": {"title": "Expression Level", "titleFontSize": 30, "titleColor": "#1a1a1a", "titlePadding": 8, "labelFontSize": 25, "labelColor": "#4d4d4d", "tickSize": 6, "tickWidth": 1.5, "tickColor": "#444", "domainColor": "#444", "domainWidth": 2, "minExtent": 44, "maxExtent": 44, "labelPadding": 3, "labelOverlap": false, "values": [0,0.5,1,1.5,2], "format": ".1f"}},
           "x": {"field": "lo", "type": "quantitative", "scale": {"domain": [0.4, 1.6], "nice": false, "zero": false}, "axis": {"title": "Identity", "titleFontSize": 30, "titleColor": "#1a1a1a", "titlePadding": 6, "labelFontSize": 25, "labelColor": "#4d4d4d", "labelAngle": -45, "tickSize": 6, "tickWidth": 1.5, "tickColor": "#444", "domainColor": "#444", "domainWidth": 2, "values": [1], "labelExpr": "'0'", "labelPadding": 2}},
           "x2": {"field": "hi"},
           "fill": {"field": "g", "type": "nominal", "scale": {"domain": ["N", "T"], "range": ["#F8766D", "#00868B"]}, "legend": null}
         }},
        {"data": {"values": [{}]}, "mark": {"type": "rule", "strokeWidth": 2.5, "color": "#333"}, "encoding": {"x": {"datum": 0.62}, "x2": {"datum": 1.38}, "y": {"datum": 1.99}}},
        {"data": {"values": [{}]}, "mark": {"type": "text", "text": "*", "fontSize": 32, "baseline": "alphabetic", "dy": 11}, "encoding": {"x": {"datum": 1}, "y": {"datum": 1.99}}},
        {"data": {"values": [{}]}, "mark": {"type": "text", "text": "ATP6V0C", "fontSize": 33, "fontWeight": "bold", "baseline": "alphabetic"}, "encoding": {"x": {"datum": 1}, "y": {"datum": 2.2}}}
      ]}
     ], "spacing": 0, "bounds": "flush", "resolve": {"scale": {"x": "independent", "y": "independent", "fill": "independent"}, "legend": {"fill": "independent"}}},

     {"hconcat": [
      {"width": 199, "height": 283, "data": {"values": [{}]}, "mark": {"type": "rect", "opacity": 0}, "encoding": {}},
      {"width": 145, "height": 194, "layer": [
        {"data": {"name": "vio"}, "transform": [{"filter": "datum.p == 'c1a'"}], "mark": {"type": "area", "orient": "horizontal", "stroke": "#3a3a3a", "strokeWidth": 1.3, "opacity": 1},
         "encoding": {
           "y": {"field": "y", "type": "quantitative", "scale": {"domain": [-0.08, 1.67], "nice": false, "zero": false}, "axis": {"title": "Expression Level", "titleFontSize": 27, "titleColor": "#1a1a1a", "titlePadding": 8, "labelFontSize": 25, "labelColor": "#4d4d4d", "tickSize": 6, "tickWidth": 1.5, "tickColor": "#444", "domainColor": "#444", "domainWidth": 2, "minExtent": 44, "maxExtent": 44, "labelPadding": 3, "labelOverlap": false, "values": [0,0.5,1,1.5], "format": ".1f"}},
           "x": {"field": "lo", "type": "quantitative", "scale": {"domain": [0.4, 1.6], "nice": false, "zero": false}, "axis": {"title": "Identity", "titleFontSize": 30, "titleColor": "#1a1a1a", "titlePadding": 6, "labelFontSize": 25, "labelColor": "#4d4d4d", "labelAngle": -45, "tickSize": 6, "tickWidth": 1.5, "tickColor": "#444", "domainColor": "#444", "domainWidth": 2, "values": [1], "labelExpr": "'1'", "labelPadding": 2}},
           "x2": {"field": "hi"},
           "fill": {"field": "g", "type": "nominal", "scale": {"domain": ["N", "T"], "range": ["#F8766D", "#00868B"]}, "legend": null}
         }},
        {"data": {"values": [{}]}, "mark": {"type": "rule", "strokeWidth": 2.5, "color": "#333"}, "encoding": {"x": {"datum": 0.65}, "x2": {"datum": 1.35}, "y": {"datum": 1.65}}},
        {"data": {"values": [{}]}, "mark": {"type": "text", "text": "*", "fontSize": 32, "baseline": "alphabetic", "dy": 11}, "encoding": {"x": {"datum": 1}, "y": {"datum": 1.65}}},
        {"data": {"values": [{}]}, "mark": {"type": "text", "text": "ITGB2", "fontSize": 33, "fontWeight": "bold", "baseline": "alphabetic"}, "encoding": {"x": {"datum": 1}, "y": {"datum": 1.856}}},
        {"data": {"values": [{}]}, "mark": {"type": "text", "text": "C1", "fontSize": 40, "fontWeight": "bold", "align": "left", "baseline": "alphabetic"}, "encoding": {"x": {"datum": -0.26}, "y": {"datum": 1.916}}}
      ]},
      {"width": 106, "height": 1, "data": {"values": []}, "mark": "point"},
      {"width": 145, "height": 194, "layer": [
        {"data": {"name": "vio"}, "transform": [{"filter": "datum.p == 'c1b'"}], "mark": {"type": "area", "orient": "horizontal", "stroke": "#3a3a3a", "strokeWidth": 1.3, "opacity": 1},
         "encoding": {
           "y": {"field": "y", "type": "quantitative", "scale": {"domain": [-0.10, 2.04], "nice": false, "zero": false}, "axis": {"title": "Expression Level", "titleFontSize": 27, "titleColor": "#1a1a1a", "titlePadding": 8, "labelFontSize": 25, "labelColor": "#4d4d4d", "tickSize": 6, "tickWidth": 1.5, "tickColor": "#444", "domainColor": "#444", "domainWidth": 2, "minExtent": 44, "maxExtent": 44, "labelPadding": 3, "labelOverlap": false, "values": [0,0.5,1,1.5,2], "format": ".1f"}},
           "x": {"field": "lo", "type": "quantitative", "scale": {"domain": [0.4, 1.6], "nice": false, "zero": false}, "axis": {"title": "Identity", "titleFontSize": 30, "titleColor": "#1a1a1a", "titlePadding": 6, "labelFontSize": 25, "labelColor": "#4d4d4d", "labelAngle": -45, "tickSize": 6, "tickWidth": 1.5, "tickColor": "#444", "domainColor": "#444", "domainWidth": 2, "values": [1], "labelExpr": "'1'", "labelPadding": 2}},
           "x2": {"field": "hi"},
           "fill": {"field": "g", "type": "nominal", "scale": {"domain": ["N", "T"], "range": ["#F8766D", "#00868B"]}, "legend": null}
         }},
        {"data": {"values": [{}]}, "mark": {"type": "rule", "strokeWidth": 2.5, "color": "#333"}, "encoding": {"x": {"datum": 0.65}, "x2": {"datum": 1.35}, "y": {"datum": 2.02}}},
        {"data": {"values": [{}]}, "mark": {"type": "text", "text": "*", "fontSize": 32, "baseline": "alphabetic", "dy": 11}, "encoding": {"x": {"datum": 1}, "y": {"datum": 2.02}}},
        {"data": {"values": [{}]}, "mark": {"type": "text", "text": "VEGFA", "fontSize": 33, "fontWeight": "bold", "baseline": "alphabetic"}, "encoding": {"x": {"datum": 1}, "y": {"datum": 2.274}}}
      ]},
      {"width": 104, "height": 1, "data": {"values": []}, "mark": "point"},
      {"width": 146, "height": 194, "layer": [
        {"data": {"name": "vio"}, "transform": [{"filter": "datum.p == 'c1c'"}], "mark": {"type": "area", "orient": "horizontal", "stroke": "#3a3a3a", "strokeWidth": 1.3, "opacity": 1},
         "encoding": {
           "y": {"field": "y", "type": "quantitative", "scale": {"domain": [-0.08, 1.70], "nice": false, "zero": false}, "axis": {"title": "Expression Level", "titleFontSize": 27, "titleColor": "#1a1a1a", "titlePadding": 8, "labelFontSize": 25, "labelColor": "#4d4d4d", "tickSize": 6, "tickWidth": 1.5, "tickColor": "#444", "domainColor": "#444", "domainWidth": 2, "minExtent": 44, "maxExtent": 44, "labelPadding": 3, "labelOverlap": false, "values": [0,0.5,1,1.5], "format": ".1f"}},
           "x": {"field": "lo", "type": "quantitative", "scale": {"domain": [0.4, 1.6], "nice": false, "zero": false}, "axis": {"title": "Identity", "titleFontSize": 30, "titleColor": "#1a1a1a", "titlePadding": 6, "labelFontSize": 25, "labelColor": "#4d4d4d", "labelAngle": -45, "tickSize": 6, "tickWidth": 1.5, "tickColor": "#444", "domainColor": "#444", "domainWidth": 2, "values": [1], "labelExpr": "'1'", "labelPadding": 2}},
           "x2": {"field": "hi"},
           "fill": {"field": "g", "type": "nominal", "scale": {"domain": ["N", "T"], "range": ["#F8766D", "#00868B"]}, "legend": null}
         }},
        {"data": {"values": [{}]}, "mark": {"type": "rule", "strokeWidth": 2.5, "color": "#333"}, "encoding": {"x": {"datum": 0.65}, "x2": {"datum": 1.35}, "y": {"datum": 1.68}}},
        {"data": {"values": [{}]}, "mark": {"type": "text", "text": "*", "fontSize": 32, "baseline": "alphabetic", "dy": 11}, "encoding": {"x": {"datum": 1}, "y": {"datum": 1.68}}},
        {"data": {"values": [{}]}, "mark": {"type": "text", "text": "HES4", "fontSize": 33, "fontWeight": "bold", "baseline": "alphabetic"}, "encoding": {"x": {"datum": 1}, "y": {"datum": 1.897}}}
      ]},
      {"width": 85, "height": 1, "data": {"values": []}, "mark": "point"},
      {"width": 146, "height": 194, "layer": [
        {"data": {"name": "vio"}, "transform": [{"filter": "datum.p == 'c1d'"}], "mark": {"type": "area", "orient": "horizontal", "stroke": "#3a3a3a", "strokeWidth": 1.3, "opacity": 1},
         "encoding": {
           "y": {"field": "y", "type": "quantitative", "scale": {"domain": [-0.18, 3.64], "nice": false, "zero": false}, "axis": {"title": "Expression Level", "titleFontSize": 27, "titleColor": "#1a1a1a", "titlePadding": 8, "labelFontSize": 25, "labelColor": "#4d4d4d", "tickSize": 6, "tickWidth": 1.5, "tickColor": "#444", "domainColor": "#444", "domainWidth": 2, "minExtent": 44, "maxExtent": 44, "labelPadding": 3, "labelOverlap": false, "values": [0,1,2,3], "format": "d"}},
           "x": {"field": "lo", "type": "quantitative", "scale": {"domain": [0.4, 1.6], "nice": false, "zero": false}, "axis": {"title": "Identity", "titleFontSize": 30, "titleColor": "#1a1a1a", "titlePadding": 6, "labelFontSize": 25, "labelColor": "#4d4d4d", "labelAngle": -45, "tickSize": 6, "tickWidth": 1.5, "tickColor": "#444", "domainColor": "#444", "domainWidth": 2, "values": [1], "labelExpr": "'1'", "labelPadding": 2}},
           "x2": {"field": "hi"},
           "fill": {"field": "g", "type": "nominal", "scale": {"domain": ["N", "T"], "range": ["#F8766D", "#00868B"]}, "legend": null}
         }},
        {"data": {"values": [{}]}, "mark": {"type": "rule", "strokeWidth": 2.5, "color": "#333"}, "encoding": {"x": {"datum": 0.65}, "x2": {"datum": 1.35}, "y": {"datum": 3.59}}},
        {"data": {"values": [{}]}, "mark": {"type": "text", "text": "*", "fontSize": 32, "baseline": "alphabetic", "dy": 11}, "encoding": {"x": {"datum": 1}, "y": {"datum": 3.59}}},
        {"data": {"values": [{}]}, "mark": {"type": "text", "text": "CCL2", "fontSize": 33, "fontWeight": "bold", "baseline": "alphabetic"}, "encoding": {"x": {"datum": 1}, "y": {"datum": 4.05}}}
      ]}
     ], "spacing": 0, "bounds": "flush", "resolve": {"scale": {"x": "independent", "y": "independent", "fill": "independent"}, "legend": {"fill": "independent"}}},

     {"hconcat": [
      {"width": 199, "height": 296.1, "data": {"values": [{}]}, "mark": {"type": "rect", "opacity": 0}, "encoding": {}},
      {"width": 145, "height": 190, "layer": [
        {"data": {"name": "vio"}, "transform": [{"filter": "datum.p == 'c1e'"}], "mark": {"type": "area", "orient": "horizontal", "stroke": "#3a3a3a", "strokeWidth": 1.3, "opacity": 1},
         "encoding": {
           "y": {"field": "y", "type": "quantitative", "scale": {"domain": [-0.19, 4.28], "nice": false, "zero": false}, "axis": {"title": "Expression Level", "titleFontSize": 27, "titleColor": "#1a1a1a", "titlePadding": 8, "labelFontSize": 25, "labelColor": "#4d4d4d", "tickSize": 6, "tickWidth": 1.5, "tickColor": "#444", "domainColor": "#444", "domainWidth": 2, "minExtent": 44, "maxExtent": 44, "labelPadding": 3, "labelOverlap": false, "values": [0,1,2,3,4], "format": "d"}},
           "x": {"field": "lo", "type": "quantitative", "scale": {"domain": [0.4, 1.6], "nice": false, "zero": false}, "axis": {"title": "Identity", "titleFontSize": 30, "titleColor": "#1a1a1a", "titlePadding": 6, "labelFontSize": 25, "labelColor": "#4d4d4d", "labelAngle": -45, "tickSize": 6, "tickWidth": 1.5, "tickColor": "#444", "domainColor": "#444", "domainWidth": 2, "values": [1], "labelExpr": "'1'", "labelPadding": 2}},
           "x2": {"field": "hi"},
           "fill": {"field": "g", "type": "nominal", "scale": {"domain": ["N", "T"], "range": ["#F8766D", "#00868B"]}, "legend": null}
         }},
        {"data": {"values": [{}]}, "mark": {"type": "rule", "strokeWidth": 2.5, "color": "#333"}, "encoding": {"x": {"datum": 0.65}, "x2": {"datum": 1.35}, "y": {"datum": 4.33}}},
        {"data": {"values": [{}]}, "mark": {"type": "text", "text": "*", "fontSize": 32, "baseline": "alphabetic", "dy": 11}, "encoding": {"x": {"datum": 1}, "y": {"datum": 4.33}}},
        {"data": {"values": [{}]}, "mark": {"type": "text", "text": "CCL4", "fontSize": 33, "fontWeight": "bold", "baseline": "alphabetic"}, "encoding": {"x": {"datum": 1}, "y": {"datum": 4.89}}}
      ]},
      {"width": 104, "height": 1, "data": {"values": []}, "mark": "point"},
      {"width": 145, "height": 190, "layer": [
        {"data": {"name": "vio"}, "transform": [{"filter": "datum.p == 'c1f'"}], "mark": {"type": "area", "orient": "horizontal", "stroke": "#3a3a3a", "strokeWidth": 1.3, "opacity": 1},
         "encoding": {
           "y": {"field": "y", "type": "quantitative", "scale": {"domain": [-0.18, 4.04], "nice": false, "zero": false}, "axis": {"title": "Expression Level", "titleFontSize": 27, "titleColor": "#1a1a1a", "titlePadding": 8, "labelFontSize": 25, "labelColor": "#4d4d4d", "tickSize": 6, "tickWidth": 1.5, "tickColor": "#444", "domainColor": "#444", "domainWidth": 2, "minExtent": 44, "maxExtent": 44, "labelPadding": 3, "labelOverlap": false, "values": [0,1,2,3,4], "format": "d"}},
           "x": {"field": "lo", "type": "quantitative", "scale": {"domain": [0.4, 1.6], "nice": false, "zero": false}, "axis": {"title": "Identity", "titleFontSize": 30, "titleColor": "#1a1a1a", "titlePadding": 6, "labelFontSize": 25, "labelColor": "#4d4d4d", "labelAngle": -45, "tickSize": 6, "tickWidth": 1.5, "tickColor": "#444", "domainColor": "#444", "domainWidth": 2, "values": [1], "labelExpr": "'1'", "labelPadding": 2}},
           "x2": {"field": "hi"},
           "fill": {"field": "g", "type": "nominal", "scale": {"domain": ["N", "T"], "range": ["#F8766D", "#00868B"]}, "legend": null}
         }},
        {"data": {"values": [{}]}, "mark": {"type": "rule", "strokeWidth": 2.5, "color": "#333"}, "encoding": {"x": {"datum": 0.65}, "x2": {"datum": 1.35}, "y": {"datum": 4.12}}},
        {"data": {"values": [{}]}, "mark": {"type": "text", "text": "*", "fontSize": 32, "baseline": "alphabetic", "dy": 11}, "encoding": {"x": {"datum": 1}, "y": {"datum": 4.12}}},
        {"data": {"values": [{}]}, "mark": {"type": "text", "text": "CCL3L1", "fontSize": 33, "fontWeight": "bold", "baseline": "alphabetic"}, "encoding": {"x": {"datum": 1}, "y": {"datum": 4.62}}}
      ]},
      {"width": 106, "height": 1, "data": {"values": []}, "mark": "point"},
      {"width": 146, "height": 190, "layer": [
        {"data": {"name": "vio"}, "transform": [{"filter": "datum.p == 'c1g'"}], "mark": {"type": "area", "orient": "horizontal", "stroke": "#3a3a3a", "strokeWidth": 1.3, "opacity": 1},
         "encoding": {
           "y": {"field": "y", "type": "quantitative", "scale": {"domain": [-0.18, 4.08], "nice": false, "zero": false}, "axis": {"title": "Expression Level", "titleFontSize": 27, "titleColor": "#1a1a1a", "titlePadding": 8, "labelFontSize": 25, "labelColor": "#4d4d4d", "tickSize": 6, "tickWidth": 1.5, "tickColor": "#444", "domainColor": "#444", "domainWidth": 2, "minExtent": 44, "maxExtent": 44, "labelPadding": 3, "labelOverlap": false, "values": [0,1,2,3,4], "format": "d"}},
           "x": {"field": "lo", "type": "quantitative", "scale": {"domain": [0.4, 1.6], "nice": false, "zero": false}, "axis": {"title": "Identity", "titleFontSize": 30, "titleColor": "#1a1a1a", "titlePadding": 6, "labelFontSize": 25, "labelColor": "#4d4d4d", "labelAngle": -45, "tickSize": 6, "tickWidth": 1.5, "tickColor": "#444", "domainColor": "#444", "domainWidth": 2, "values": [1], "labelExpr": "'1'", "labelPadding": 2}},
           "x2": {"field": "hi"},
           "fill": {"field": "g", "type": "nominal", "scale": {"domain": ["N", "T"], "range": ["#F8766D", "#00868B"]}, "legend": null}
         }},
        {"data": {"values": [{}]}, "mark": {"type": "text", "text": "CCL4L2", "fontSize": 33, "fontWeight": "bold", "baseline": "alphabetic"}, "encoding": {"x": {"datum": 1}, "y": {"datum": 4.67}}}
      ]}
     ], "spacing": 0, "bounds": "flush", "resolve": {"scale": {"x": "independent", "y": "independent", "fill": "independent"}, "legend": {"fill": "independent"}}},

     {"hconcat": [
      {"width": 178, "height": 330.1, "data": {"values": [{}]}, "mark": {"type": "rect", "opacity": 0}, "encoding": {}},
      {"width": 192, "height": 236, "layer": [
        {"data": {"name": "vio"}, "transform": [{"filter": "datum.p == 'c3'"}], "mark": {"type": "area", "orient": "horizontal", "stroke": "#3a3a3a", "strokeWidth": 1.3, "opacity": 1},
         "encoding": {
           "y": {"field": "y", "type": "quantitative", "scale": {"domain": [-0.19, 3.61], "nice": false, "zero": false}, "axis": {"title": "Expression Level", "titleFontSize": 27, "titleColor": "#1a1a1a", "titlePadding": 8, "labelFontSize": 25, "labelColor": "#4d4d4d", "tickSize": 6, "tickWidth": 1.5, "tickColor": "#444", "domainColor": "#444", "domainWidth": 2, "minExtent": 44, "maxExtent": 44, "labelPadding": 3, "labelOverlap": false, "values": [0,1,2,3], "format": "d"}},
           "x": {"field": "lo", "type": "quantitative", "scale": {"domain": [0.4, 1.6], "nice": false, "zero": false}, "axis": {"title": "Identity", "titleFontSize": 30, "titleColor": "#1a1a1a", "titlePadding": 6, "labelFontSize": 25, "labelColor": "#4d4d4d", "labelAngle": -45, "tickSize": 6, "tickWidth": 1.5, "tickColor": "#444", "domainColor": "#444", "domainWidth": 2, "values": [1], "labelExpr": "'3'", "labelPadding": 2}},
           "x2": {"field": "hi"},
           "fill": {"field": "g", "type": "nominal", "scale": {"domain": ["N", "T"], "range": ["#F8766D", "#00868B"]}, "legend": null}
         }},
        {"data": {"values": [{}]}, "mark": {"type": "rule", "strokeWidth": 2.5, "color": "#333"}, "encoding": {"x": {"datum": 0.74}, "x2": {"datum": 1.26}, "y": {"datum": 3.52}}},
        {"data": {"values": [{}]}, "mark": {"type": "text", "text": "*", "fontSize": 32, "baseline": "alphabetic", "dy": 11}, "encoding": {"x": {"datum": 1}, "y": {"datum": 3.52}}},
        {"data": {"values": [{}]}, "mark": {"type": "text", "text": "CCL3L1", "fontSize": 33, "fontWeight": "bold", "baseline": "alphabetic"}, "encoding": {"x": {"datum": 1}, "y": {"datum": 3.88}}},
        {"data": {"values": [{}]}, "mark": {"type": "text", "text": "C3", "fontSize": 40, "fontWeight": "bold", "align": "left", "baseline": "alphabetic"}, "encoding": {"x": {"datum": 0.04}, "y": {"datum": 3.83}}}
      ]},
      {"width": 156, "height": 1, "data": {"values": []}, "mark": "point"},
      {"width": 118, "height": 232, "layer": [
        {"data": {"name": "vio"}, "transform": [{"filter": "datum.p == 'c5'"}], "mark": {"type": "area", "orient": "horizontal", "stroke": "#3a3a3a", "strokeWidth": 1.3, "opacity": 1},
         "encoding": {
           "y": {"field": "y", "type": "quantitative", "scale": {"domain": [-0.24, 4.06], "nice": false, "zero": false}, "axis": {"title": "Expression Level", "titleFontSize": 27, "titleColor": "#1a1a1a", "titlePadding": 8, "labelFontSize": 25, "labelColor": "#4d4d4d", "tickSize": 6, "tickWidth": 1.5, "tickColor": "#444", "domainColor": "#444", "domainWidth": 2, "minExtent": 44, "maxExtent": 44, "labelPadding": 3, "labelOverlap": false, "values": [0,1,2,3,4], "format": "d"}},
           "x": {"field": "lo", "type": "quantitative", "scale": {"domain": [0.4, 1.6], "nice": false, "zero": false}, "axis": {"title": "Identity", "titleFontSize": 30, "titleColor": "#1a1a1a", "titlePadding": 6, "labelFontSize": 25, "labelColor": "#4d4d4d", "labelAngle": -45, "tickSize": 6, "tickWidth": 1.5, "tickColor": "#444", "domainColor": "#444", "domainWidth": 2, "values": [1], "labelExpr": "'5'", "labelPadding": 2}},
           "x2": {"field": "hi"},
           "fill": {"field": "g", "type": "nominal", "scale": {"domain": ["N", "T"], "range": ["#F8766D", "#00868B"]}, "legend": null}
         }},
        {"data": {"values": [{}]}, "mark": {"type": "rule", "strokeWidth": 2.5, "color": "#333"}, "encoding": {"x": {"datum": 0.57}, "x2": {"datum": 1.43}, "y": {"datum": 3.95}}},
        {"data": {"values": [{}]}, "mark": {"type": "text", "text": "*", "fontSize": 32, "baseline": "alphabetic", "dy": 11}, "encoding": {"x": {"datum": 1}, "y": {"datum": 3.95}}},
        {"data": {"values": [{}]}, "mark": {"type": "text", "text": "CCL3L1", "fontSize": 33, "fontWeight": "bold", "baseline": "alphabetic"}, "encoding": {"x": {"datum": 1}, "y": {"datum": 4.377}}},
        {"data": {"values": [{}]}, "mark": {"type": "text", "text": "C5", "fontSize": 40, "fontWeight": "bold", "align": "left", "baseline": "alphabetic"}, "encoding": {"x": {"datum": -0.69}, "y": {"datum": 4.317}}}
      ]}
     ], "spacing": 0, "bounds": "flush", "resolve": {"scale": {"x": "independent", "y": "independent", "fill": "independent"}, "legend": {"fill": "independent"}}},

     {"hconcat": [
      {"width": 188, "height": 257, "data": {"values": [{}]}, "mark": {"type": "rect", "opacity": 0}, "encoding": {}},
      {"width": 140, "height": 257, "layer": [
        {"data": {"name": "vio"}, "transform": [{"filter": "datum.p == 'c8a'"}], "mark": {"type": "area", "orient": "horizontal", "stroke": "#3a3a3a", "strokeWidth": 1.3, "opacity": 1},
         "encoding": {
           "y": {"field": "y", "type": "quantitative", "scale": {"domain": [-0.14, 2.79], "nice": false, "zero": false}, "axis": {"title": "Expression Level", "titleFontSize": 30, "titleColor": "#1a1a1a", "titlePadding": 8, "labelFontSize": 25, "labelColor": "#4d4d4d", "tickSize": 6, "tickWidth": 1.5, "tickColor": "#444", "domainColor": "#444", "domainWidth": 2, "minExtent": 44, "maxExtent": 44, "labelPadding": 3, "labelOverlap": false, "values": [0,1,2], "format": "d"}},
           "x": {"field": "lo", "type": "quantitative", "scale": {"domain": [0.4, 1.6], "nice": false, "zero": false}, "axis": {"title": "Identity", "titleFontSize": 30, "titleColor": "#1a1a1a", "titlePadding": 6, "labelFontSize": 25, "labelColor": "#4d4d4d", "labelAngle": -45, "tickSize": 6, "tickWidth": 1.5, "tickColor": "#444", "domainColor": "#444", "domainWidth": 2, "values": [1], "labelExpr": "'8'", "labelPadding": 2}},
           "x2": {"field": "hi"},
           "fill": {"field": "g", "type": "nominal", "scale": {"domain": ["N", "T"], "range": ["#F8766D", "#00868B"]}, "legend": null}
         }},
        {"data": {"values": [{}]}, "mark": {"type": "rule", "strokeWidth": 2.5, "color": "#333"}, "encoding": {"x": {"datum": 0.64}, "x2": {"datum": 1.36}, "y": {"datum": 2.72}}},
        {"data": {"values": [{}]}, "mark": {"type": "text", "text": "*", "fontSize": 32, "baseline": "alphabetic", "dy": 11}, "encoding": {"x": {"datum": 1}, "y": {"datum": 2.72}}},
        {"data": {"values": [{}]}, "mark": {"type": "text", "text": "IER5", "fontSize": 33, "fontWeight": "bold", "baseline": "alphabetic"}, "encoding": {"x": {"datum": 1}, "y": {"datum": 3.02}}},
        {"data": {"values": [{}]}, "mark": {"type": "text", "text": "C8", "fontSize": 40, "fontWeight": "bold", "align": "left", "baseline": "alphabetic"}, "encoding": {"x": {"datum": -0.19}, "y": {"datum": 3.04}}}
      ]},
      {"width": 117, "height": 1, "data": {"values": []}, "mark": "point"},
      {"width": 143, "height": 257, "layer": [
        {"data": {"name": "vio"}, "transform": [{"filter": "datum.p == 'c8b'"}], "mark": {"type": "area", "orient": "horizontal", "stroke": "#3a3a3a", "strokeWidth": 1.3, "opacity": 1},
         "encoding": {
           "y": {"field": "y", "type": "quantitative", "scale": {"domain": [-0.09, 1.71], "nice": false, "zero": false}, "axis": {"title": "Expression Level", "titleFontSize": 30, "titleColor": "#1a1a1a", "titlePadding": 8, "labelFontSize": 25, "labelColor": "#4d4d4d", "tickSize": 6, "tickWidth": 1.5, "tickColor": "#444", "domainColor": "#444", "domainWidth": 2, "minExtent": 44, "maxExtent": 44, "labelPadding": 3, "labelOverlap": false, "values": [0,0.5,1,1.5], "format": ".1f"}},
           "x": {"field": "lo", "type": "quantitative", "scale": {"domain": [0.4, 1.6], "nice": false, "zero": false}, "axis": {"title": "Identity", "titleFontSize": 30, "titleColor": "#1a1a1a", "titlePadding": 6, "labelFontSize": 25, "labelColor": "#4d4d4d", "labelAngle": -45, "tickSize": 6, "tickWidth": 1.5, "tickColor": "#444", "domainColor": "#444", "domainWidth": 2, "values": [1], "labelExpr": "'8'", "labelPadding": 2}},
           "x2": {"field": "hi"},
           "fill": {"field": "g", "type": "nominal", "scale": {"domain": ["N", "T"], "range": ["#F8766D", "#00868B"]}, "legend": null}
         }},
        {"data": {"values": [{}]}, "mark": {"type": "rule", "strokeWidth": 2.5, "color": "#333"}, "encoding": {"x": {"datum": 0.65}, "x2": {"datum": 1.35}, "y": {"datum": 1.66}}},
        {"data": {"values": [{}]}, "mark": {"type": "text", "text": "*", "fontSize": 32, "baseline": "alphabetic", "dy": 11}, "encoding": {"x": {"datum": 1}, "y": {"datum": 1.66}}},
        {"data": {"values": [{}]}, "mark": {"type": "text", "text": "PAX5", "fontSize": 33, "fontWeight": "bold", "baseline": "alphabetic"}, "encoding": {"x": {"datum": 1}, "y": {"datum": 1.85}}}
      ]},
      {"width": 114, "height": 1, "data": {"values": []}, "mark": "point"},
      {"width": 143, "height": 257, "layer": [
        {"data": {"name": "vio"}, "transform": [{"filter": "datum.p == 'c8c'"}], "mark": {"type": "area", "orient": "horizontal", "stroke": "#3a3a3a", "strokeWidth": 1.3, "opacity": 1},
         "encoding": {
           "y": {"field": "y", "type": "quantitative", "scale": {"domain": [-0.09, 1.71], "nice": false, "zero": false}, "axis": {"title": "Expression Level", "titleFontSize": 30, "titleColor": "#1a1a1a", "titlePadding": 8, "labelFontSize": 25, "labelColor": "#4d4d4d", "tickSize": 6, "tickWidth": 1.5, "tickColor": "#444", "domainColor": "#444", "domainWidth": 2, "minExtent": 44, "maxExtent": 44, "labelPadding": 3, "labelOverlap": false, "values": [0,0.5,1,1.5], "format": ".1f"}},
           "x": {"field": "lo", "type": "quantitative", "scale": {"domain": [0.4, 1.6], "nice": false, "zero": false}, "axis": {"title": "Identity", "titleFontSize": 30, "titleColor": "#1a1a1a", "titlePadding": 6, "labelFontSize": 25, "labelColor": "#4d4d4d", "labelAngle": -45, "tickSize": 6, "tickWidth": 1.5, "tickColor": "#444", "domainColor": "#444", "domainWidth": 2, "values": [1], "labelExpr": "'8'", "labelPadding": 2}},
           "x2": {"field": "hi"},
           "fill": {"field": "g", "type": "nominal", "scale": {"domain": ["N", "T"], "range": ["#F8766D", "#00868B"]},
                    "legend": {"orient": "none", "legendX": 199, "legendY": 234, "title": null, "symbolType": "square", "symbolSize": 1600, "symbolStrokeColor": "#999", "symbolStrokeWidth": 2, "labelFontSize": 32, "labelColor": "#222", "labelOffset": 12, "rowPadding": 4, "labelExpr": "datum.label == 'N' ? 'Non-T21' : 'T21'"}}
         }},
        {"data": {"values": [{}]}, "mark": {"type": "rule", "strokeWidth": 2.5, "color": "#333"}, "encoding": {"x": {"datum": 0.65}, "x2": {"datum": 1.35}, "y": {"datum": 1.66}}},
        {"data": {"values": [{}]}, "mark": {"type": "text", "text": "*", "fontSize": 32, "baseline": "alphabetic", "dy": 11}, "encoding": {"x": {"datum": 1}, "y": {"datum": 1.66}}},
        {"data": {"values": [{}]}, "mark": {"type": "text", "text": "FCRLA", "fontSize": 33, "fontWeight": "bold", "baseline": "alphabetic"}, "encoding": {"x": {"datum": 1}, "y": {"datum": 1.85}}}
      ]}
     ], "spacing": 0, "bounds": "flush", "resolve": {"scale": {"x": "independent", "y": "independent", "fill": "independent"}, "legend": {"fill": "independent"}}}
    ],
    "spacing": 0,
    "resolve": {"scale": {"x": "independent", "y": "independent", "fill": "independent"}, "legend": {"fill": "independent"}}
   }
  ],
  "spacing": 0,
  "resolve": {"scale": {"x": "independent", "y": "independent", "color": "independent", "fill": "independent"}, "legend": {"color": "independent", "fill": "independent"}}
 }
]
}
